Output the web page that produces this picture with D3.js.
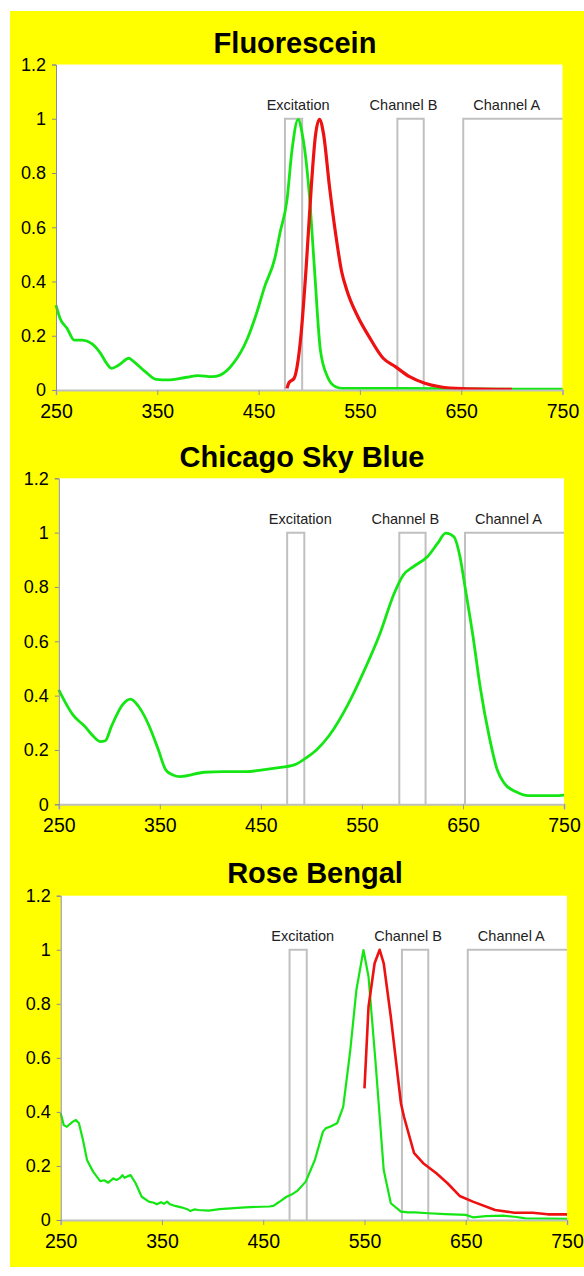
<!DOCTYPE html>
<html lang="en">
    <head>
        <meta charset="utf-8">
        <title>Dye spectra</title>
        <script type="text/javascript" src="https://cdn.jsdelivr.net/npm/d3@7"></script>
        <style type="text/css">
            body { margin: 0; background: #fff; }
            svg text { font-family: "Liberation Sans", Arial, Helvetica, sans-serif; }
        </style>
    </head>
    <body>
        <script type="text/javascript">
            var w = 584;
            var h = 1276;

            //Tick values shared by all three panels
            var xTicks = [250, 350, 450, 550, 650, 750];
            var yTicks = [0, 0.2, 0.4, 0.6, 0.8, 1, 1.2];

            //Filter bands (nm) and where their labels sit
            var bandNames = ["Excitation", "Channel B", "Channel A"];
            var bandStart = [476, 587, 652];
            var bandEnd = [493, 613, 750];
            var bandLabelX = [489, 593, 695];

            var titles = ["Fluorescein", "Chicago Sky Blue", "Rose Bengal"];

            //Fluorescein: absorption (green) and emission (red)
            var fluorAbs = [
                [250, 0.313], [254, 0.264], [261, 0.227], [268, 0.184], [276, 0.184],
                [285, 0.172], [294, 0.135], [300, 0.098], [305, 0.080], [312, 0.092],
                [322, 0.117], [327, 0.104], [338, 0.068], [349, 0.039], [360, 0.037],
                [379, 0.047], [390, 0.053], [404, 0.049], [412, 0.055], [425, 0.098],
                [439, 0.190], [448, 0.283], [456, 0.381], [466, 0.485], [471, 0.577],
                [478, 0.700], [483, 0.885], [489, 0.998], [493, 0.946], [500, 0.725],
                [505, 0.455], [511, 0.147], [518, 0.049], [526, 0.012], [533, 0.006],
                [563, 0.006], [636, 0.005], [702, 0.003], [750, 0.003]
            ];
            var fluorEm = [
                [478, 0.006], [480, 0.027], [485, 0.043], [488, 0.086], [492, 0.209],
                [497, 0.455], [502, 0.749], [506, 0.934], [510, 0.998], [514, 0.946],
                [520, 0.749], [526, 0.577], [532, 0.436], [537, 0.369], [548, 0.270],
                [559, 0.197], [573, 0.117], [585, 0.086], [599, 0.049], [614, 0.025],
                [629, 0.012], [651, 0.005], [700, 0.002]
            ];

            //Chicago Sky Blue: absorption only
            var skyAbs = [
                [250, 0.421], [256, 0.378], [264, 0.329], [276, 0.286], [283, 0.255],
                [291, 0.231], [296, 0.234], [302, 0.286], [313, 0.366], [321, 0.387],
                [329, 0.360], [339, 0.292], [348, 0.206], [356, 0.126], [363, 0.108],
                [370, 0.102], [394, 0.118], [413, 0.120], [435, 0.120], [450, 0.126],
                [464, 0.133], [483, 0.145], [494, 0.169], [505, 0.200], [518, 0.255],
                [536, 0.366], [551, 0.482], [568, 0.630], [582, 0.777], [591, 0.844],
                [601, 0.875], [615, 0.912], [625, 0.961], [633, 0.998], [641, 0.985],
                [647, 0.912], [652, 0.801], [660, 0.617], [667, 0.433], [676, 0.249],
                [684, 0.126], [691, 0.077], [702, 0.047], [715, 0.032], [741, 0.032],
                [750, 0.034]
            ];

            //Rose Bengal: absorption (green) and emission (red)
            var roseAbs = [
                [250, 0.395], [253, 0.351], [256, 0.345], [262, 0.364], [265, 0.370],
                [268, 0.358], [272, 0.296], [276, 0.222], [282, 0.179], [289, 0.144],
                [293, 0.147], [297, 0.138], [302, 0.154], [305, 0.148], [308, 0.154],
                [311, 0.166], [313, 0.156], [315, 0.160], [319, 0.166], [324, 0.136],
                [330, 0.086], [337, 0.068], [342, 0.064], [345, 0.058], [349, 0.066],
                [352, 0.060], [355, 0.068], [358, 0.058], [363, 0.052], [370, 0.046],
                [375, 0.040], [378, 0.033], [382, 0.039], [386, 0.037], [396, 0.035],
                [407, 0.040], [418, 0.043], [432, 0.047], [448, 0.049], [456, 0.050],
                [460, 0.052], [463, 0.060], [467, 0.070], [473, 0.086], [478, 0.094],
                [484, 0.109], [492, 0.142], [501, 0.222], [509, 0.327], [512, 0.340],
                [516, 0.345], [523, 0.358], [529, 0.419], [536, 0.629], [542, 0.851],
                [549, 0.999], [554, 0.900], [561, 0.580], [569, 0.185], [576, 0.062],
                [586, 0.031], [593, 0.028], [600, 0.028], [613, 0.025], [630, 0.022],
                [650, 0.019], [657, 0.010], [670, 0.014], [687, 0.016], [700, 0.011],
                [709, 0.006], [730, 0.005], [750, 0.004]
            ];
            var roseEm = [
                [550, 0.487], [554, 0.789], [560, 0.950], [565, 1.000], [569, 0.950],
                [576, 0.752], [586, 0.432], [589, 0.382], [599, 0.247], [608, 0.210],
                [621, 0.173], [632, 0.136], [644, 0.089], [657, 0.068], [679, 0.037],
                [698, 0.027], [716, 0.027], [731, 0.021], [750, 0.021]
            ];

            //Where each panel sits on the page
            var panels = [
                { title: titles[0], lines: [fluorAbs, fluorEm], left: 56, right: 562.5, top: 64.5, bottom: 390, titleX: 295, titleY: 53, width: [2.8, 3.2], curve: d3.curveMonotoneX },
                { title: titles[1], lines: [skyAbs], left: 58.8, right: 564, top: 478.3, bottom: 804.3, titleX: 302, titleY: 467, width: [2.8], curve: d3.curveMonotoneX },
                { title: titles[2], lines: [roseAbs, roseEm], left: 60.7, right: 567, top: 895.7, bottom: 1220, titleX: 315, titleY: 883, width: [2.2, 2.6], curve: d3.curveLinear }
            ];
            var lineColors = ["#14e614", "#ee1111"];

            var svg = d3.select("body")
                        .append("svg")
                        .attr("width", w)
                        .attr("height", h);

            //Yellow backdrop
            svg.append("rect")
                .attr("x", 10)
                .attr("y", 11)
                .attr("width", w - 10)
                .attr("height", 1256)
                .attr("fill", "#ffff00");

            panels.forEach(function(p) {
                var xScale = d3.scaleLinear()
                                .domain([250, 750])
                                .range([p.left, p.right]);
                var yScale = d3.scaleLinear()
                                .domain([0, 1.2])
                                .range([p.bottom, p.top]);

                var g = svg.append("g");

                //White plot area
                g.append("rect")
                    .attr("x", p.left)
                    .attr("y", p.top)
                    .attr("width", p.right - p.left)
                    .attr("height", p.bottom - p.top)
                    .attr("fill", "#fff");

                //Title
                g.append("text")
                    .attr("x", p.titleX)
                    .attr("y", p.titleY)
                    .attr("text-anchor", "middle")
                    .attr("font-size", "29px")
                    .attr("font-weight", "bold")
                    .attr("fill", "#000")
                    .text(p.title);

                //Filter band boxes (open on the right edge of the plot)
                bandNames.forEach(function(name, i) {
                    var x0 = xScale(bandStart[i]);
                    var x1 = xScale(bandEnd[i]);
                    var y0 = yScale(0);
                    var y1 = yScale(1);
                    var d = "M" + x0 + "," + y0 + "V" + y1 + "H" + x1;
                    if (bandEnd[i] < 750) d += "V" + y0;
                    g.append("path")
                        .attr("d", d)
                        .attr("fill", "none")
                        .attr("stroke", "#c0c0c0")
                        .attr("stroke-width", 2);
                    g.append("text")
                        .attr("x", xScale(bandLabelX[i]))
                        .attr("y", y1 - 9)
                        .attr("text-anchor", "middle")
                        .attr("font-size", "14.5px")
                        .attr("fill", "#222")
                        .text(name);
                });

                //Spectra
                var line = d3.line()
                            .x(function(d) { return xScale(d[0]); })
                            .y(function(d) { return yScale(d[1]); })
                            .curve(p.curve);

                p.lines.forEach(function(data, i) {
                    g.append("path")
                        .datum(data)
                        .attr("d", line)
                        .attr("fill", "none")
                        .attr("stroke", lineColors[i])
                        .attr("stroke-width", p.width[i])
                        .attr("stroke-linejoin", "round");
                });

                //Axes
                var xAxis = d3.axisBottom(xScale)
                                .tickValues(xTicks)
                                .tickSize(5)
                                .tickPadding(9)
                                .tickFormat(d3.format("d"));
                var yAxis = d3.axisLeft(yScale)
                                .tickValues(yTicks)
                                .tickSize(4)
                                .tickPadding(6)
                                .tickFormat(function(d) { return d3.format("~g")(d); });

                var gx = g.append("g")
                    .attr("transform", "translate(0," + p.bottom + ")")
                    .call(xAxis);
                gx.select(".domain").attr("stroke", "#c0c0c0").attr("stroke-width", 2);
                gx.selectAll(".tick line").attr("stroke", "#999");
                gx.selectAll(".tick text")
                    .attr("font-size", "19.5px")
                    .attr("font-family", "Liberation Sans, Arial, sans-serif")
                    .attr("fill", "#000");

                var gy = g.append("g")
                    .attr("transform", "translate(" + p.left + ",0)")
                    .call(yAxis);
                gy.select(".domain").attr("stroke", "#8c8c8c");
                gy.selectAll(".tick line").attr("stroke", "#8c8c8c");
                gy.selectAll(".tick text")
                    .attr("font-size", "18px")
                    .attr("font-family", "Liberation Sans, Arial, sans-serif")
                    .attr("fill", "#000");
            });
        </script>
    </body>
</html>
